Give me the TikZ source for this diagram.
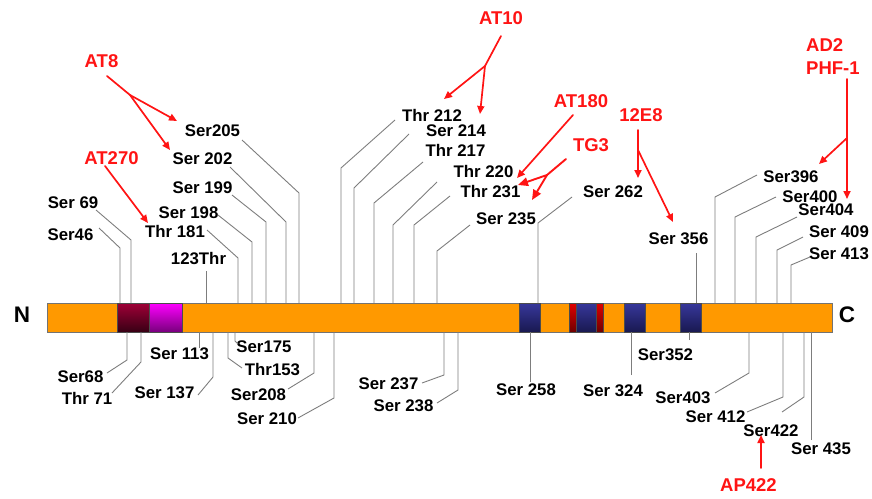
\documentclass[tikz,border=0pt]{standalone}
\usepackage{fontspec}
\setmainfont{Liberation Sans}
\usetikzlibrary{arrows.meta}
\definecolor{barorange}{RGB}{255,153,0}
\definecolor{leadgray}{RGB}{125,125,125}
\definecolor{abred}{RGB}{255,20,20}
\definecolor{maroontop}{RGB}{160,0,55}
\definecolor{maroonbot}{RGB}{55,0,20}
\definecolor{magtop}{RGB}{255,0,255}
\definecolor{magbot}{RGB}{120,0,125}
\definecolor{bluetop}{RGB}{55,55,155}
\definecolor{bluebot}{RGB}{25,25,80}
\definecolor{redtop}{RGB}{225,0,0}
\definecolor{redbot}{RGB}{110,0,0}
\begin{document}
\begin{tikzpicture}[x=1pt,y=-1pt,
  lbl/.style={font=\bfseries\fontsize{16.8}{18}\selectfont, inner sep=0pt},
  ablbl/.style={font=\bfseries\fontsize{18.5}{20}\selectfont, text=abred, inner sep=0pt},
  endlbl/.style={font=\bfseries\fontsize{22.5}{24}\selectfont, inner sep=0pt},
  lead/.style={draw=leadgray, line width=0.9pt},
  arl/.style={draw=abred, line width=1.7pt, line cap=round},
  ar/.style={draw=abred, line width=1.7pt, line cap=round, -{Triangle[length=8pt,width=7pt]}},
  arbig/.style={draw=abred, line width=1.9pt, line cap=round, -{Triangle[length=10pt,width=8.5pt]}},
  segline/.style={draw=black!70, line width=0.6pt},
  maroonseg/.style={top color=maroontop, bottom color=maroonbot, segline},
  magseg/.style={top color=magtop, bottom color=magbot, segline},
  blueseg/.style={top color=bluetop, bottom color=bluebot, segline},
  redseg/.style={top color=redtop, bottom color=redbot, segline}
]
\useasboundingbox (0,0) rectangle (872,498);

% ---------- bar ----------
\draw[fill=barorange, draw=black!55, line width=0.8pt] (47,303) coordinate (barTL) rectangle (832,332) coordinate (barBR);
\shade[maroonseg] (117,303) rectangle (149,332);
\shade[magseg] (149,303) rectangle (182,332);
\shade[blueseg] (519,303) rectangle (540,332);
\shade[redseg] (569,303) rectangle (576,332);
\shade[blueseg] (576,303) rectangle (596,332);
\shade[redseg] (596,303) rectangle (603,332);
\shade[blueseg] (624,303) rectangle (645,332);
\shade[blueseg] (680,303) rectangle (701,332);

\node[endlbl] (N) at (22,315) {N};
\node[endlbl] (C) at (847,315) {C};

% ---------- top labels ----------
\node[lbl] (s46)  at (70.5,234.5) {Ser46};
\node[lbl] (s69)  at (73,203) {Ser 69};
\node[lbl] (t123) at (198.5,259) {123Thr};
\node[lbl] (t181) at (175,231.5) {Thr 181};
\node[lbl] (s198) at (188.5,213) {Ser 198};
\node[lbl] (s199) at (202.5,187.5) {Ser 199};
\node[lbl] (s202) at (202.5,158.5) {Ser 202};
\node[lbl] (s205) at (212.5,131) {Ser205};
\node[lbl] (t212) at (432,115) {Thr 212};
\node[lbl] (s214) at (456,131) {Ser 214};
\node[lbl] (t217) at (455.5,150) {Thr 217};
\node[lbl] (t220) at (483.5,171.5) {Thr 220};
\node[lbl] (t231) at (490.5,191.5) {Thr 231};
\node[lbl] (s235) at (506,219) {Ser 235};
\node[lbl] (s262) at (613,191.5) {Ser 262};
\node[lbl] (s356) at (678.5,238.5) {Ser 356};
\node[lbl] (s396) at (791,177) {Ser396};
\node[lbl] (s400) at (810,197) {Ser400};
\node[lbl] (s404) at (826,210) {Ser404};
\node[lbl] (s409) at (839,232) {Ser 409};
\node[lbl] (s413) at (839,253.5) {Ser 413};

% ---------- bottom labels ----------
\node[lbl] (s68)  at (80.5,376.5) {Ser68};
\node[lbl] (t71)  at (87,398.5) {Thr 71};
\node[lbl] (s113) at (179.5,354) {Ser 113};
\node[lbl] (s137) at (164.5,392.5) {Ser 137};
\node[lbl] (s175) at (264,346.5) {Ser175};
\node[lbl] (t153) at (272.5,369.5) {Thr153};
\node[lbl] (s208) at (258.5,395) {Ser208};
\node[lbl] (s210) at (267,418.5) {Ser 210};
\node[lbl] (s237) at (388.5,383.5) {Ser 237};
\node[lbl] (s238) at (403.5,406) {Ser 238};
\node[lbl] (s258) at (526,390) {Ser 258};
\node[lbl] (s324) at (613,390.5) {Ser 324};
\node[lbl] (s352) at (665.5,355) {Ser352};
\node[lbl] (s403) at (683,398) {Ser403};
\node[lbl] (s412) at (715.5,417) {Ser 412};
\node[lbl] (s422) at (771,430.5) {Ser422};
\node[lbl] (s435) at (821,449) {Ser 435};

% ---------- top leader lines ----------
\draw[lead] (99,228) coordinate (l46a) -- (120,248) coordinate (l46b) -- (120,303) coordinate (l46c);
\draw[lead] (96,210) coordinate (l69a) -- (131,240) coordinate (l69b) -- (131,303) coordinate (l69c);
\draw[lead] (206,271) coordinate (l123a) -- (206,303) coordinate (l123b);
\draw[lead] (207,230) coordinate (l181a) -- (238,258) coordinate (l181b) -- (238,303) coordinate (l181c);
\draw[lead] (218,215) coordinate (l198a) -- (252,242) coordinate (l198b) -- (252,303) coordinate (l198c);
\draw[lead] (232,195) coordinate (l199a) -- (266,222) coordinate (l199b) -- (266,303) coordinate (l199c);
\draw[lead] (230,167) coordinate (l202a) -- (286,222) coordinate (l202b) -- (286,303) coordinate (l202c);
\draw[lead] (242,140) coordinate (l205a) -- (299,193) coordinate (l205b) -- (299,303) coordinate (l205c);
\draw[lead] (395,120) coordinate (l212a) -- (341,168) coordinate (l212b) -- (341,303) coordinate (l212c);
\draw[lead] (409,134) coordinate (l214a) -- (354,188) coordinate (l214b) -- (354,303) coordinate (l214c);
\draw[lead] (423,162) coordinate (l217a) -- (374,203) coordinate (l217b) -- (374,303) coordinate (l217c);
\draw[lead] (437,182) coordinate (l220a) -- (393,225) coordinate (l220b) -- (393,303) coordinate (l220c);
\draw[lead] (450,196) coordinate (l231a) -- (414,225) coordinate (l231b) -- (414,303) coordinate (l231c);
\draw[lead] (470,225) coordinate (l235a) -- (437,251) coordinate (l235b) -- (437,303) coordinate (l235c);
\draw[lead] (572,197) coordinate (l262a) -- (538,223) coordinate (l262b) -- (538,303) coordinate (l262c);
\draw[lead] (696,253) coordinate (l356a) -- (696,303) coordinate (l356b);
\draw[lead] (757,175) coordinate (l396a) -- (715,197) coordinate (l396b) -- (715,303) coordinate (l396c);
\draw[lead] (776,197) coordinate (l400a) -- (735,217) coordinate (l400b) -- (735,303) coordinate (l400c);
\draw[lead] (797,217) coordinate (l404a) -- (756,237) coordinate (l404b) -- (756,303) coordinate (l404c);
\draw[lead] (803,237) coordinate (l409a) -- (777,250) coordinate (l409b) -- (777,303) coordinate (l409c);
\draw[lead] (810,257) coordinate (l413a) -- (791,265) coordinate (l413b) -- (791,303) coordinate (l413c);

% ---------- bottom leader lines ----------
\draw[lead] (107,373) coordinate (l68a) -- (127,360) coordinate (l68b) -- (127,332) coordinate (l68c);
\draw[lead] (112,393) coordinate (l71a) -- (141,362) coordinate (l71b) -- (141,332) coordinate (l71c);
\draw[lead] (199,348) coordinate (l113a) -- (199,332) coordinate (l113b);
\draw[lead] (198,395) coordinate (l137a) -- (213,377) coordinate (l137b) -- (213,332) coordinate (l137c);
\draw[lead] (238,344) coordinate (l175a) -- (235,341) coordinate (l175b) -- (235,332) coordinate (l175c);
\draw[lead] (242,368) coordinate (l153a) -- (228,358) coordinate (l153b) -- (228,332) coordinate (l153c);
\draw[lead] (288,389) coordinate (l208a) -- (314,373) coordinate (l208b) -- (314,332) coordinate (l208c);
\draw[lead] (298,418) coordinate (l210a) -- (334,398) coordinate (l210b) -- (334,332) coordinate (l210c);
\draw[lead] (422,383) coordinate (l237a) -- (444,375) coordinate (l237b) -- (444,332) coordinate (l237c);
\draw[lead] (437,403) coordinate (l238a) -- (458,390) coordinate (l238b) -- (458,332) coordinate (l238c);
\draw[lead] (530,382) coordinate (l258a) -- (530,332) coordinate (l258b);
\draw[lead] (631,375) coordinate (l324a) -- (631,332) coordinate (l324b);
\draw[lead] (689,340) coordinate (l352a) -- (689,332) coordinate (l352b);
\draw[lead] (715,393) coordinate (l403a) -- (749,373) coordinate (l403b) -- (749,332) coordinate (l403c);
\draw[lead] (747,412) coordinate (l412a) -- (783,397) coordinate (l412b) -- (783,332) coordinate (l412c);
\draw[lead] (782,412) coordinate (l422a) -- (804,397) coordinate (l422b) -- (804,332) coordinate (l422c);
\draw[lead] (811,440) coordinate (l435a) -- (811,332) coordinate (l435b);

% ---------- antibody labels ----------
\node[ablbl] (at8)   at (101.5,61.5) {AT8};
\node[ablbl] (at270) at (111.5,158.5) {AT270};
\node[ablbl] (at10)  at (501,18.5) {AT10};
\node[ablbl] (at180) at (581,101) {AT180};
\node[ablbl] (tg3)   at (591,145) {TG3};
\node[ablbl] (e12)   at (641,115.5) {12E8};
\node[ablbl, anchor=west] (ad2) at (806,45) {AD2};
\node[ablbl, anchor=west] (phf) at (806,68.5) {PHF-1};
\node[ablbl] (ap422) at (748.5,485) {AP422};

% ---------- antibody arrows ----------
\coordinate (at8s) at (107,76);   \coordinate (at8b) at (130,95);
\coordinate (at8e1) at (177,121); \coordinate (at8e2) at (170,150);
\draw[arl] (at8s) -- (at8b);
\draw[ar] (at8b) -- (at8e1);
\draw[ar] (at8b) -- (at8e2);

\coordinate (at270s) at (105,166); \coordinate (at270e) at (148,223);
\draw[ar] (at270s) -- (at270e);

\coordinate (at10s) at (501,36);  \coordinate (at10b) at (485,66);
\coordinate (at10e1) at (444,99); \coordinate (at10e2) at (480,114);
\draw[arl] (at10s) -- (at10b);
\draw[ar] (at10b) -- (at10e1);
\draw[ar] (at10b) -- (at10e2);

\coordinate (at180s) at (573,115); \coordinate (at180e) at (517,178);
\draw[ar] (at180s) -- (at180e);

\coordinate (tg3s) at (566,159);  \coordinate (tg3b) at (547,175);
\coordinate (tg3e1) at (518,185); \coordinate (tg3e2) at (532,200);
\draw[arl, line width=1.9pt] (tg3s) -- (tg3b);
\draw[arbig] (tg3b) -- (tg3e1);
\draw[arbig] (tg3b) -- (tg3e2);

\coordinate (e12s) at (638,130); \coordinate (e12b) at (638,150);
\coordinate (e12e1) at (638,178); \coordinate (e12e2) at (673,222);
\draw[ar] (e12s) -- (e12e1);
\draw[ar] (e12b) -- (e12e2);

\coordinate (ad2s) at (847,79); \coordinate (ad2b) at (847,138);
\coordinate (ad2e1) at (847,199); \coordinate (ad2e2) at (819,164);
\draw[ar] (ad2s) -- (ad2e1);
\draw[ar] (ad2b) -- (ad2e2);

\coordinate (ap422s) at (761,468); \coordinate (ap422e) at (761,435);
\draw[ar] (ap422s) -- (ap422e);
\end{tikzpicture}
\end{document}
